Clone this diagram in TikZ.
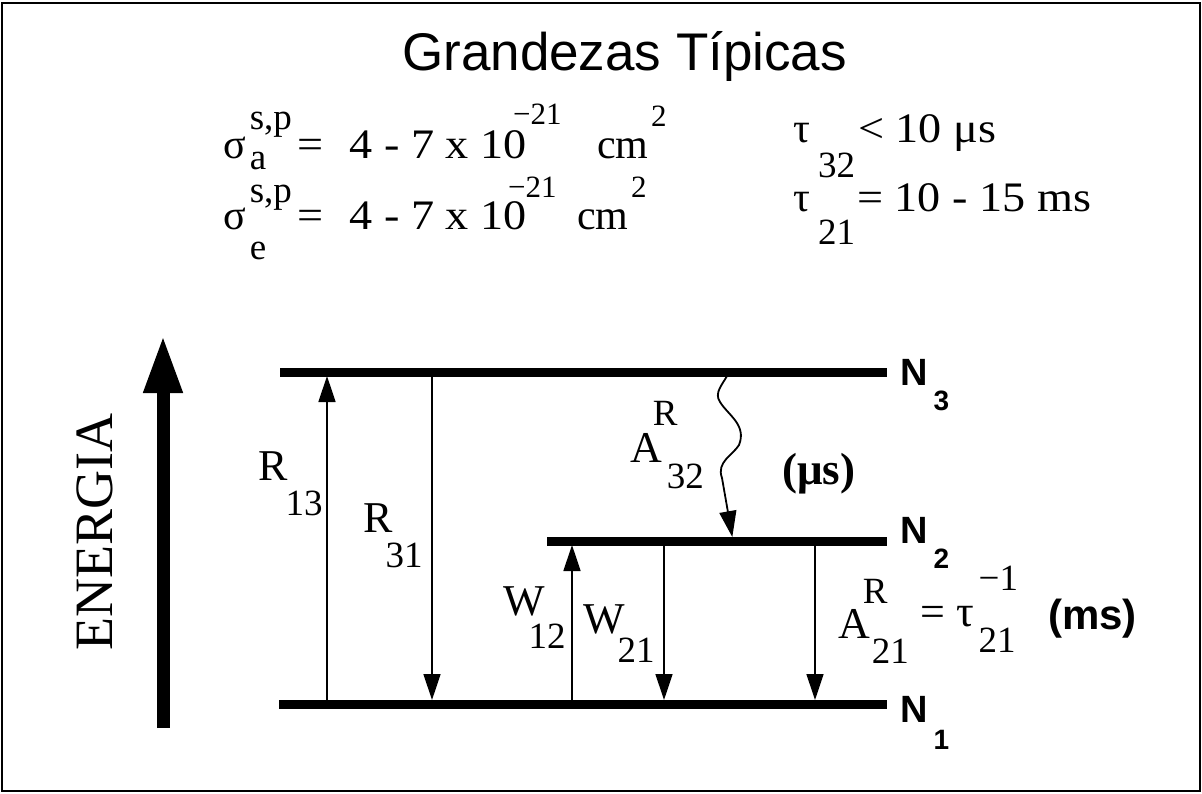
\documentclass[tikz,border=0pt]{standalone}
\usepackage{fontspec}
\setmainfont{Liberation Serif}
\newfontfamily\arial{Liberation Sans}
\usepackage{graphicx}
\usetikzlibrary{arrows.meta}

\newcommand{\wide}[1]{\scalebox{1.1}[1]{#1}}
\newcommand{\scrsize}{\fontsize{37}{37}\selectfont}
\newcommand{\powsize}{\fontsize{31}{31}\selectfont}

\begin{document}
\begin{tikzpicture}[x=1pt,y=-1pt,
  level/.style={line width=9pt},
  trans/.style={line width=1.4pt,-{Triangle[length=26pt,width=17pt]},shorten <=4pt,shorten >=4pt},
  eqtext/.style={anchor=base west,inner sep=0pt,font=\fontsize{42}{46}\selectfont},
  power/.style={anchor=base west,inner sep=0pt,font=\powsize},
  lab/.style={anchor=base west,inner sep=0pt,font=\fontsize{44}{48}\selectfont},
  lvlname/.style={anchor=base west,inner sep=0pt,font=\arial\bfseries\fontsize{38}{40}\selectfont}]
\useasboundingbox (0,0) rectangle (1202,794);
\draw[line width=2pt] (2,3) rectangle (1200,791);

% titulo
\node[anchor=base west,inner sep=0pt,font=\arial\fontsize{53}{60}\selectfont] (titulo) at (402,71) {Grandezas Típicas};

% secoes de choque
\node[eqtext] (sigA) at (223,159) {σ\kern4pt\rlap{\raisebox{29pt}{\scrsize s,p}}\raisebox{-11pt}{\scrsize a}};
\node[eqtext] (eqA) at (297,159) {\wide{=\hspace{24pt}4 - 7 x 10}};
\node[power] (expA) at (513,125) {−21};
\node[eqtext] (cmA) at (597,159) {cm};
\node[power] (sqA) at (651,127) {2};

\node[eqtext] (sigE) at (223,230) {σ\kern4pt\rlap{\raisebox{27pt}{\scrsize s,p}}\raisebox{-30pt}{\scrsize e}};
\node[eqtext] (eqE) at (297,230) {\wide{=\hspace{24pt}4 - 7 x 10}};
\node[power] (expE) at (508,198) {−21};
\node[eqtext] (cmE) at (577,230) {cm};
\node[power] (sqE) at (631,198) {2};

% tempos de vida
\node[eqtext] (tauA) at (793,143) {τ\kern8pt\raisebox{-35pt}{\scrsize 32}};
\node[eqtext] (ltA) at (858,143) {\wide{< 10 μs}};
\node[eqtext] (tauB) at (793,212) {τ\kern8pt\raisebox{-33pt}{\scrsize 21}};
\node[eqtext] (eqB) at (857,212) {\wide{= 10 - 15 ms}};

% eixo de energia
\coordinate (eBot) at (163,728);
\coordinate (eTop) at (163,335);
\draw[line width=13pt,-{Triangle[length=58pt,width=36pt]}] (eBot) -- (eTop);
\node[rotate=90,inner sep=0pt,font=\fontsize{54}{58}\selectfont] (energia) at (95,532) {ENERGIA};

% niveis
\coordinate (l3w) at (280,372); \coordinate (l3e) at (887,372);
\coordinate (l2w) at (547,541); \coordinate (l2e) at (887,541);
\coordinate (l1w) at (279,704); \coordinate (l1e) at (887,704);
\draw[level] (l3w) -- (l3e);
\draw[level] (l2w) -- (l2e);
\draw[level] (l1w) -- (l1e);
\node[lvlname] (n3) at (900,385) {N\kern6pt\raisebox{-25pt}{\fontsize{28}{28}\selectfont 3}};
\node[lvlname] (n2) at (900,543) {N\kern6pt\raisebox{-25pt}{\fontsize{28}{28}\selectfont 2}};
\node[lvlname] (n1) at (900,722) {N\kern6pt\raisebox{-27pt}{\fontsize{28}{28}\selectfont 1}};

% transicoes
\coordinate (xR13) at (327,0);
\coordinate (xR31) at (432,0);
\coordinate (xW12) at (572,0);
\coordinate (xW21) at (664,0);
\coordinate (xA21) at (815,0);
\draw[trans] (xR13 |- l1w) -- (xR13 |- l3w);
\draw[trans] (xR31 |- l3w) -- (xR31 |- l1w);
\draw[trans] (xW12 |- l1w) -- (xW12 |- l2w);
\draw[trans] (xW21 |- l2w) -- (xW21 |- l1w);
\draw[trans] (xA21 |- l2w) -- (xA21 |- l1w);

\coordinate (w3) at (727,376);
\coordinate (w2) at (733,541);
\draw[trans,line width=1.8pt,shorten <=0pt] (w3) .. controls (722,385) and (714,393) .. (720,402)
  .. controls (728,415) and (747,425) .. (739,445)
  .. controls (733,455) and (716,462) .. (722,478) -- (w2);

% rotulos
\node[lab] (r13) at (258,480) {R\kern-2pt\raisebox{-35pt}{\scrsize 13}};
\node[lab] (r31) at (363,532) {R\kern-7pt\raisebox{-35pt}{\scrsize 31}};
\node[lab] (a32) at (630,462) {A\rlap{\kern-9pt\raisebox{37pt}{\scrsize R}}\kern5pt\raisebox{-26pt}{\scrsize 32}};
\node[lab] (w12) at (503,615) {W\kern-16pt\raisebox{-33pt}{\scrsize 12}};
\node[lab] (w21) at (583,633) {W\kern-7pt\raisebox{-29pt}{\scrsize 21}};
\node[lab] (a21) at (838,638) {A\rlap{\kern-7pt\raisebox{35pt}{\scrsize R}}\kern2pt\raisebox{-25pt}{\scrsize 21}};
\node[lab] (tau21) at (920,626) {=\hspace{12pt}τ\kern4pt\rlap{\raisebox{36pt}{\scrsize −1}}\raisebox{-26pt}{\scrsize 21}};
\node[anchor=base west,inner sep=0pt,font=\bfseries\fontsize{45}{48}\selectfont] (us) at (782,484) {(μs)};
\node[anchor=base west,inner sep=0pt,font=\arial\bfseries\fontsize{42}{46}\selectfont] (ms) at (1048,629) {(ms)};
\end{tikzpicture}
\end{document}
